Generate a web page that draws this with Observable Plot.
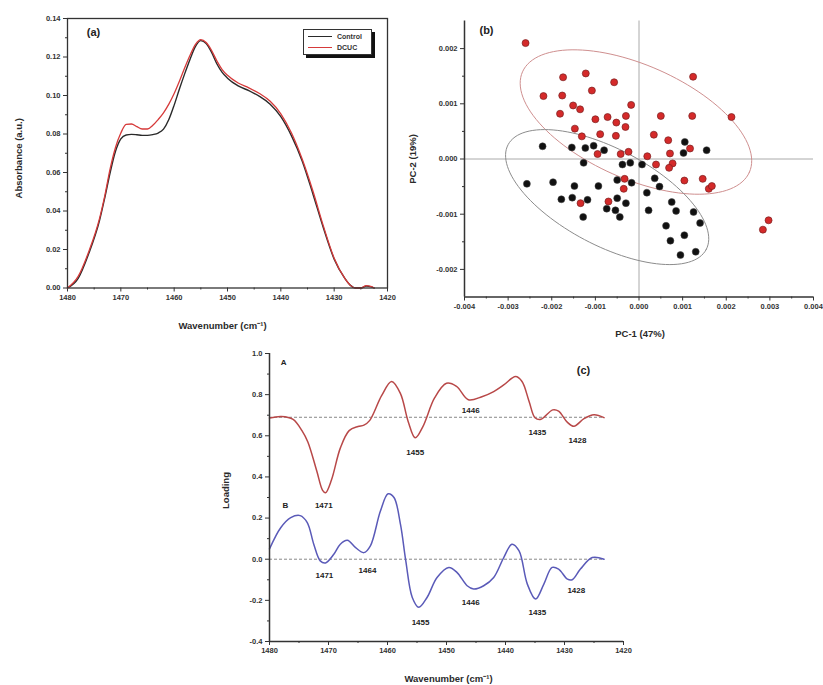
<!DOCTYPE html>
<html><head><meta charset="utf-8">
<script src="https://cdn.jsdelivr.net/npm/d3@7"></script>
<script src="https://cdn.jsdelivr.net/npm/@observablehq/plot@0.6"></script>
<style>
body{margin:0;background:#fff;}
#wrap{position:relative;width:823px;height:685px;background:#fff;font-family:"Liberation Sans",Arial,sans-serif;overflow:hidden}
.panel{position:absolute}
#legend{position:absolute;left:303px;top:29px;width:67px;height:24px;border:1px solid #333;background:#fff;box-shadow:3px 3px 0 #111;font-size:7px;font-weight:bold;color:#333}
#legend .row{position:absolute;left:4px;height:10px;display:flex;align-items:center}
#legend .ln{display:inline-block;width:24px;height:0;border-top:1.4px solid #222;margin-right:5px}
</style>
</head><body>
<div id="wrap">
  <div class="panel" id="pa" style="left:0;top:0"></div>
  <div class="panel" id="pb" style="left:400px;top:0"></div>
  <div class="panel" id="pc" style="left:200px;top:340px"></div>
  <div id="legend">
    <div class="row" style="top:1px"><span class="ln" style="border-color:#2a2a2a"></span>Control</div>
    <div class="row" style="top:12px"><span class="ln" style="border-color:#d63a3a"></span>DCUC</div>
  </div>
</div>
<script>
// ---------- Panel (a): absorbance spectra ----------
const specWn = [1480,1478,1476,1474,1473,1472,1471,1470,1469,1468,
                1467,1466,1465,1464,1463,1462,1461,1460,1459,1458,
                1457,1456,1455,1454,1453,1452,1451,1450,1448,1446,
                1444,1442,1440,1438,1436,1434,1432,1430,1428,1427,
                1426,1425,1424,1423,1422.5];
const controlAbs = [0,0.005,0.018,0.035,0.047,0.060,0.071,0.0775,0.0795,0.0798,
                    0.0796,0.0793,0.0793,0.0797,0.0805,0.0825,0.0875,0.095,0.1035,0.1115,
                    0.119,0.1255,0.1285,0.127,0.1225,0.1165,0.112,0.109,0.105,0.1025,
                    0.0995,0.0955,0.089,0.079,0.066,0.049,0.031,0.015,0.005,0.0015,
                    0,0,0.001,0.0006,0];
const dcucAbs = [0,0.006,0.019,0.036,0.048,0.062,0.073,0.0805,0.0850,0.0852,
                 0.0838,0.0826,0.0826,0.0845,0.0875,0.0910,0.0955,0.1010,0.1075,0.1145,
                 0.1210,0.1265,0.1290,0.1275,0.1235,0.1180,0.1135,0.1105,0.1065,0.1040,
                 0.1010,0.0970,0.0905,0.0805,0.0670,0.0505,0.0320,0.0155,0.0050,0.0015,
                 0,0,0.0012,0.0007,0];
const aXTicks = [1480,1470,1460,1450,1440,1430,1420];
const aXMinor = [1475,1465,1455,1445,1435,1425];
const aYTicks = [0,0.02,0.04,0.06,0.08,0.10,0.12,0.14];
const aYMinor = [0.01,0.03,0.05,0.07,0.09,0.11,0.13];

// ---------- Panel (b): PCA scores ----------
const redPC1 = [-2.60,-1.74,-1.22,-0.57,-1.08,-2.19,-1.76,-1.51,-1.35,-1.81,
                -0.18,-1.00,-0.72,-0.30,-0.52,-0.31,-1.47,-0.89,-1.31,-0.53,
                0.50,1.24,1.22,2.12,0.34,0.67,1.17,0.71,0.19,-0.95,
                -0.42,-0.24,0.39,0.77,0.69,1.04,1.46,1.60,1.67,-0.33,
                -0.35,-1.34,-0.70,2.84,2.97].map(v => v * 1e-3);
const redPC2 = [2.10,1.48,1.55,1.39,1.24,1.14,1.15,0.97,0.90,0.82,
                0.98,0.72,0.76,0.78,0.66,0.58,0.55,0.45,0.41,0.42,
                0.78,1.49,0.78,0.76,0.44,0.34,0.19,0.10,0.05,0.09,
                0.09,0.13,-0.10,-0.08,-0.16,-0.39,-0.36,-0.54,-0.49,-0.36,
                -0.54,-0.80,-0.77,-1.28,-1.11].map(v => v * 1e-3);
const blackPC1 = [-2.21,-1.54,-1.23,-1.04,-0.80,-1.27,-2.57,-1.97,-1.48,-0.93,
                  -0.50,-0.17,-1.78,-1.53,-1.18,-0.74,-0.54,-0.50,-0.30,-1.28,
                  -0.44,-0.38,-0.20,0.07,0.36,0.47,0.18,0.22,0.75,0.85,
                  1.25,1.40,0.62,0.72,1.04,0.95,1.30,1.05,1.02,1.55].map(v => v * 1e-3);
const blackPC2 = [0.23,0.21,0.20,0.24,0.16,-0.07,-0.45,-0.42,-0.49,-0.49,
                  -0.38,-0.43,-0.73,-0.70,-0.74,-0.90,-0.93,-0.71,-0.80,-1.05,
                  -1.05,-0.10,-0.07,-0.10,-0.35,-0.50,-0.61,-0.93,-0.78,-0.94,
                  -0.96,-1.16,-1.21,-1.48,-1.38,-1.74,-1.68,0.31,0.11,0.16].map(v => v * 1e-3);
// confidence ellipses: centre, semi-axis vectors (data units)
const ellipseGroups = ["DCUC","Control"];
const ellipseCenter = [[-0.00007, 0.00067], [-0.00073, -0.00069]];
const ellipseAxisU  = [[0.00260, -0.00091], [0.00227, -0.00095]];
const ellipseAxisV  = [[-0.00053, -0.00094], [-0.00052, -0.00077]];
const bXTicks = [-0.004,-0.003,-0.002,-0.001,0,0.001,0.002,0.003,0.004];
const bXMinor = [-0.0035,-0.0025,-0.0015,-0.0005,0.0005,0.0015,0.0025,0.0035];
const bYTicks = [-0.002,-0.001,0,0.001,0.002];
const bYMinor = [-0.0015,-0.0005,0.0005,0.0015];

// ---------- Panel (c): PCA loadings ----------
const wnA = [1480,1478,1476,1474.5,1473.5,1472,1471,1470.5,1469.5,1468,
             1466.5,1465,1464,1463,1461,1459.3,1457.8,1456.5,1455.3,1454,
             1452,1450,1448.3,1446.3,1444,1442,1440.3,1438.3,1437.2,1436,
             1435,1434,1432,1431,1429.5,1428.4,1426.7,1425,1423.3];
const loadA = [0.686,0.694,0.680,0.625,0.570,0.430,0.335,0.323,0.385,0.540,
               0.625,0.645,0.652,0.675,0.795,0.864,0.805,0.670,0.590,0.645,
               0.785,0.855,0.840,0.775,0.790,0.815,0.847,0.888,0.864,0.767,
               0.688,0.680,0.726,0.720,0.665,0.646,0.683,0.702,0.688];
const wnB = [1480,1478.1,1476.4,1474.8,1473.6,1472.5,1471.4,1470.5,1469.1,1468,
             1466.8,1465.4,1464,1462.9,1461.2,1459.9,1458.9,1457.8,1456.9,1455.8,
             1454.7,1453.3,1451.6,1449.6,1448.2,1446.5,1445.4,1443.7,1442,1440.3,
             1438.9,1437.7,1436.3,1434.9,1433.5,1432.1,1431,1429.5,1428.7,1427.3,
             1425.3,1423.3];
const loadB = [0.05,0.153,0.202,0.212,0.178,0.073,-0.008,-0.018,0.024,0.073,
               0.092,0.056,0.032,0.065,0.234,0.318,0.300,0.169,-0.008,-0.186,
               -0.234,-0.186,-0.089,-0.040,-0.065,-0.129,-0.145,-0.129,-0.089,0.008,
               0.073,0.040,-0.121,-0.194,-0.121,-0.040,-0.048,-0.097,-0.100,-0.048,
               0.008,0.0];
const baselineLevels = [0.69, 0];
const baselineSpan = [1480, 1423.3];
const peakText = ["1471","1455","1446","1435","1428","1471","1464","1455","1446","1435","1428","A","B"];
const peakWn   = [1470.8,1455.3,1445.9,1434.6,1427.8,1470.7,1463.4,1454.4,1445.9,1434.6,1428.0,1477.6,1477.3];
const peakY    = [0.261,0.519,0.723,0.616,0.577,-0.080,-0.055,-0.308,-0.210,-0.259,-0.152,0.956,0.261];
const cXTicks = [1480,1470,1460,1450,1440,1430,1420];
const cXMinor = [1475,1465,1455,1445,1435,1425];
const cYTicks = [-0.4,-0.2,0,0.2,0.4,0.6,0.8,1.0];
const cYMinor = [-0.3,-0.1,0.1,0.3,0.5,0.7,0.9];

// ---------- drawing ----------
const FONT = '"Liberation Sans", Arial, sans-serif';
const baseStyle = {fontFamily: FONT, fontSize: "7.5px", fontWeight: "bold", color: "#333", background: "transparent", overflow: "visible"};
const fmt = n => d => (d < 0 ? "-" : "") + Math.abs(d).toFixed(n);
const blank = () => "";
const title = (t, anchor, dx, dy, rot) => Plot.text([t], {text: d => d, frameAnchor: anchor, dx, dy, rotate: rot || 0,
  textAnchor: "middle", lineAnchor: "middle", fontSize: 9.5, fontWeight: "bold", fill: "#2a2a2a"});

// (a)
const specRows = specWn.map((w, i) => ({w, control: controlAbs[i], dcuc: dcucAbs[i]}));
const plotA = Plot.plot({
  width: 400, height: 340, marginLeft: 67, marginRight: 13, marginTop: 18, marginBottom: 52.5,
  style: baseStyle,
  x: {domain: [1480, 1420]},
  y: {domain: [0, 0.14]},
  marks: [
    Plot.axisX({ticks: aXTicks, tickFormat: d => String(d), tickSize: 4, tickPadding: 2.5, label: null}),
    Plot.axisX({ticks: aXMinor, tickFormat: blank, tickSize: 2, label: null}),
    Plot.axisY({ticks: aYTicks, tickFormat: fmt(2), tickSize: 4, tickPadding: 3, label: null}),
    Plot.axisY({ticks: aYMinor, tickFormat: blank, tickSize: 2, label: null}),
    Plot.line(specRows, {x: "w", y: "control", stroke: "#2a2a2a", strokeWidth: 1.4, curve: "monotone-x"}),
    Plot.line(specRows, {x: "w", y: "dcuc", stroke: "#d63a3a", strokeWidth: 1.3, curve: "monotone-x"}),
    Plot.frame({stroke: "#333", strokeWidth: 1.3}),
    Plot.text(["(a)"], {text: d => d, frameAnchor: "top-left", dx: 26, dy: 14, textAnchor: "middle", lineAnchor: "middle", fontSize: 11, fontWeight: "bold", fill: "#222"}),
    title("Absorbance (a.u.)", "left", -49, 5, -90),
    title("Wavenumber (cm\u207B\u00B9)", "bottom", -5, 37.5)
  ]
});
document.getElementById("pa").appendChild(plotA);

// (b)
const redPts = redPC1.map((x, i) => ({x, y: redPC2[i]}));
const blackPts = blackPC1.map((x, i) => ({x, y: blackPC2[i]}));
const ellipsePts = [];
ellipseGroups.forEach((g, k) => {
  const [cx, cy] = ellipseCenter[k], [ux, uy] = ellipseAxisU[k], [vx, vy] = ellipseAxisV[k];
  for (let deg = 0; deg <= 360; deg += 3) {
    const t = deg * Math.PI / 180;
    ellipsePts.push({g, x: cx + ux * Math.cos(t) + vx * Math.sin(t), y: cy + uy * Math.cos(t) + vy * Math.sin(t)});
  }
});
const plotB = Plot.plot({
  width: 423, height: 345, marginLeft: 64, marginRight: 10, marginTop: 20.5, marginBottom: 48.5,
  style: baseStyle,
  x: {domain: [-0.004, 0.004]},
  y: {domain: [-0.0025, 0.0025]},
  marks: [
    Plot.ruleY([0], {stroke: "#aaa", strokeWidth: 1}),
    Plot.ruleX([0], {stroke: "#aaa", strokeWidth: 1}),
    Plot.line(ellipsePts.filter(d => d.g === "DCUC"), {x: "x", y: "y", stroke: "#cf8f8f", strokeWidth: 1}),
    Plot.line(ellipsePts.filter(d => d.g === "Control"), {x: "x", y: "y", stroke: "#8c8c8c", strokeWidth: 1}),
    Plot.dot(blackPts, {x: "x", y: "y", r: 3.5, fill: "#111", stroke: "#444", strokeWidth: 0.5}),
    Plot.dot(redPts, {x: "x", y: "y", r: 3.5, fill: "#d42a2a", stroke: "#7a2020", strokeWidth: 0.7}),
    Plot.axisX({ticks: bXTicks, tickFormat: fmt(3), tickSize: 4, tickPadding: 2.5, label: null}),
    Plot.axisX({ticks: bXMinor, tickFormat: blank, tickSize: 2, label: null}),
    Plot.axisY({ticks: bYTicks, tickFormat: fmt(3), tickSize: 4, tickPadding: 3, label: null}),
    Plot.axisY({ticks: bYMinor, tickFormat: blank, tickSize: 2, label: null}),
    Plot.ruleX([-0.004], {stroke: "#333", strokeWidth: 1.5}),
    Plot.ruleY([-0.0025], {stroke: "#333", strokeWidth: 1.5}),
    Plot.text(["(b)"], {text: d => d, frameAnchor: "top-left", dx: 22, dy: 9, textAnchor: "middle", lineAnchor: "middle", fontSize: 11, fontWeight: "bold", fill: "#222"}),
    title("PC-2 (19%)", "left", -52, 0, -90),
    title("PC-1 (47%)", "bottom", 1, 36.5)
  ]
});
document.getElementById("pb").appendChild(plotB);

// (c)
const rowsA = wnA.map((w, i) => ({w, v: loadA[i]}));
const rowsB = wnB.map((w, i) => ({w, v: loadB[i]}));
const peaks = peakText.map((t, i) => ({t, w: peakWn[i], v: peakY[i]}));
const plotC = Plot.plot({
  width: 450, height: 345, marginLeft: 69, marginRight: 27, marginTop: 13, marginBottom: 44,
  style: baseStyle,
  x: {domain: [1480, 1420]},
  y: {domain: [-0.4, 1.0]},
  marks: [
    Plot.ruleY(baselineLevels, {x1: baselineSpan[0], x2: baselineSpan[1], stroke: "#888", strokeWidth: 1, strokeDasharray: "3,2"}),
    Plot.line(rowsA, {x: "w", y: "v", stroke: "#b84848", strokeWidth: 1.5, curve: "catmull-rom"}),
    Plot.line(rowsB, {x: "w", y: "v", stroke: "#5a5ab8", strokeWidth: 1.5, curve: "catmull-rom"}),
    Plot.text(peaks, {x: "w", y: "v", text: "t", fontSize: 8, fontWeight: "bold", fill: "#222"}),
    Plot.axisX({ticks: cXTicks, tickFormat: d => String(d), tickSize: 4, tickPadding: 2.5, label: null}),
    Plot.axisX({ticks: cXMinor, tickFormat: blank, tickSize: 2, label: null}),
    Plot.axisY({ticks: cYTicks, tickFormat: fmt(1), tickSize: 4, tickPadding: 3, label: null}),
    Plot.axisY({ticks: cYMinor, tickFormat: blank, tickSize: 2, label: null}),
    Plot.ruleX([1480], {stroke: "#333", strokeWidth: 1.5}),
    Plot.ruleY([-0.4], {stroke: "#333", strokeWidth: 1.5}),
    Plot.text(["(c)"], {text: d => d, frameAnchor: "top-right", dx: -40, dy: 17, textAnchor: "middle", lineAnchor: "middle", fontSize: 11, fontWeight: "bold", fill: "#222"}),
    title("Loading", "left", -44, -7, -90),
    title("Wavenumber (cm\u207B\u00B9)", "bottom", 2, 37)
  ]
});
document.getElementById("pc").appendChild(plotC);
</script>
</body></html>
